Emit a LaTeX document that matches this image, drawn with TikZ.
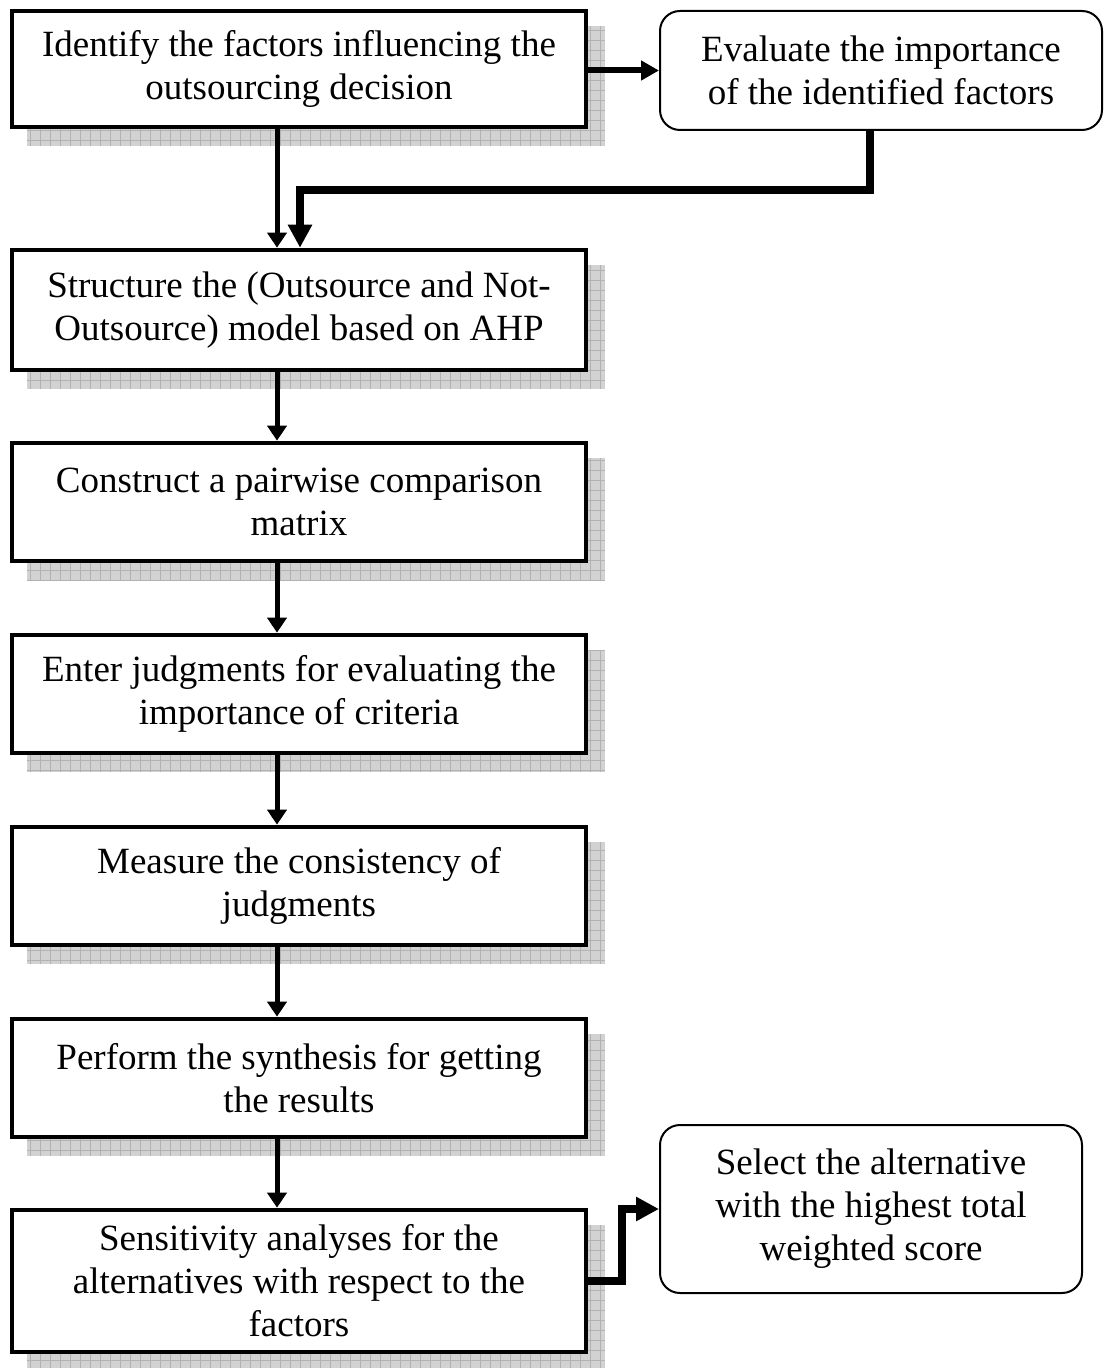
\documentclass[tikz,border=0pt]{standalone}
\usepackage{fontspec}
\setmainfont{Liberation Serif}
\usetikzlibrary{arrows.meta,backgrounds}

\begin{document}
\begin{tikzpicture}[x=0.5pt,y=-0.5pt,
    stepbox/.style={draw,line width=2.3pt,fill=white,align=center,inner sep=0pt,
        minimum width=287pt,font=\fontsize{18.5}{21.5}\selectfont},
    sidebox/.style={draw,line width=1pt,rounded corners=10pt,fill=white,align=center,
        inner sep=0pt,font=\fontsize{18.5}{21.5}\selectfont},
    flow/.style={line width=2.5pt,-{Triangle[length=7.5pt,width=9.5pt]}},
    midflow/.style={line width=3pt,-{Triangle[length=9pt,width=9.5pt]}},
    fatflow/.style={line width=4pt,-{Triangle[length=11.5pt,width=11.5pt]}}]
    \useasboundingbox (0,0) rectangle (1105,1368);

    % Steps %
    \node[stepbox,minimum height=58pt] (identify) at (299,69) {Identify the factors influencing the\\outsourcing decision};
    \node[sidebox,minimum width=221pt,minimum height=59.5pt] (evaluate) at (881,70.5) {Evaluate the importance\\of the identified factors};
    \node[stepbox,minimum height=60pt] (structure) at (299,310) {Structure the (Outsource and Not-\\Outsource) model based on AHP};
    \node[stepbox,minimum height=59pt] (construct) at (299,502) {Construct a pairwise comparison\\matrix};
    \node[stepbox,minimum height=59pt] (enter) at (299,694) {Enter judgments for evaluating the\\importance of criteria};
    \node[stepbox,minimum height=59pt] (measure) at (299,886) {Measure the consistency of\\judgments};
    \node[stepbox,minimum height=59pt] (perform) at (299,1078) {Perform the synthesis for getting\\the results};
    \node[stepbox,minimum height=71pt] (sensitivity) at (299,1281) {Sensitivity analyses for the\\alternatives with respect to the\\factors};
    \node[sidebox,minimum width=211pt,minimum height=84pt] (select) at (871,1209) {Select the alternative\\with the highest total\\weighted score};

    % Shadows %
    \begin{scope}[on background layer]
    \foreach \b in {identify,structure,construct,enter,measure,perform,sensitivity}{
        \fill[gray!35] ([shift={(17,17)}]\b.south west) rectangle ([shift={(17,17)}]\b.north east);
        \draw[gray!60,line width=0.3pt,step=5pt] ([shift={(17,17)}]\b.south west) grid ([shift={(17,17)}]\b.north east);
    }
    \end{scope}

    % Arrows %
    \coordinate (colx) at (277,0);
    \coordinate (bend) at (870,190);
    \coordinate (feed) at (300,190);
    \coordinate (jog) at (622,0);
    \draw[midflow] (identify.east |- evaluate.west) -- (evaluate.west);
    \draw[flow] (identify.south -| colx) -- (structure.north -| colx);
    \draw[fatflow] (evaluate.south -| bend) |- (feed) -- (feed |- structure.north);
    \foreach \a/\b in {structure/construct,construct/enter,enter/measure,measure/perform,perform/sensitivity}
        \draw[flow] (\a.south -| colx) -- (\b.north -| colx);
    \draw[fatflow] (sensitivity.east) -| (jog |- select.west) -- (select.west);
\end{tikzpicture}
\end{document}
